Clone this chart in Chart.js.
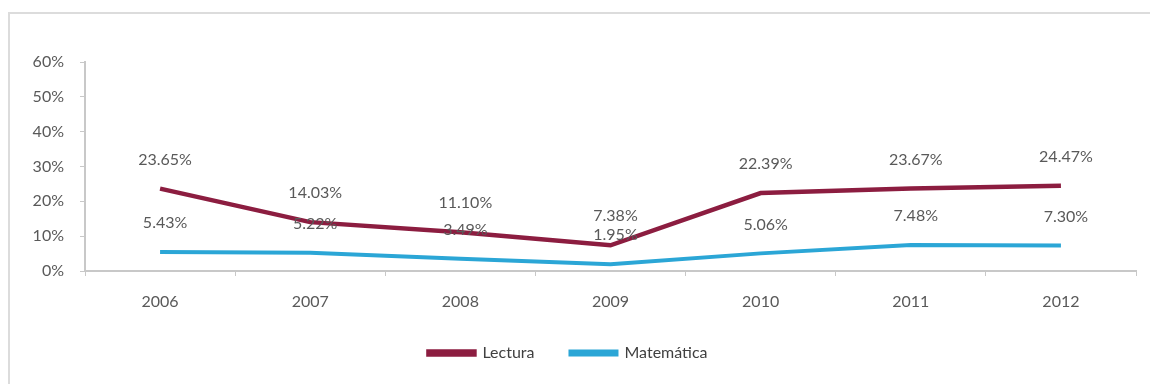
<!DOCTYPE html>
<html>
<head>
<meta charset="utf-8">
<script src="https://cdn.jsdelivr.net/npm/chart.js@4"></script>
<style>
  body { margin: 0; background: #fff; overflow: hidden; }
  #wrap { position: relative; width: 1150px; height: 384px; }
  #frame { position: absolute; left: 8px; top: 12px; width: 1160px; height: 400px; border: 2px solid #dcdcdc; box-sizing: border-box; }
  #chart { position: absolute; left: 0; top: 0; }
</style>
</head>
<body>
<div id="wrap">
  <div id="frame"></div>
  <canvas id="chart" width="1150" height="384"></canvas>
</div>
<script>
// datos del gráfico
const years = ['2006', '2007', '2008', '2009', '2010', '2011', '2012'];
const lectura = [23.65, 14.03, 11.10, 7.38, 22.39, 23.67, 24.47];
const matematica = [5.43, 5.22, 3.49, 1.95, 5.06, 7.48, 7.30];
const yTicks = [0, 10, 20, 30, 40, 50, 60];

const textColor = '#595959';
const fontFamily = 'Lato, "Open Sans", sans-serif';

// etiquetas de valor encima de cada punto
const valueLabels = {
    id: 'valueLabels',
    afterDatasetsDraw(chart) {
        const ctx = chart.ctx;
        ctx.save();
        ctx.font = '16px ' + fontFamily;
        ctx.fillStyle = textColor;
        ctx.textAlign = 'center';
        ctx.textBaseline = 'middle';
        chart.data.datasets.forEach((ds, i) => {
            const meta = chart.getDatasetMeta(i);
            meta.data.forEach((pt, j) => {
                ctx.fillText(ds.data[j].toFixed(2) + '%', pt.x + 5, pt.y - 29);
            });
        });
        ctx.restore();
    }
};

new Chart(document.getElementById('chart'), {
    type: 'line',
    data: {
        labels: years,
        datasets: [{
            label: 'Lectura',
            data: lectura,
            borderColor: '#8c1d40',
            backgroundColor: '#8c1d40',
            borderWidth: 4.5,
            pointRadius: 0,
            tension: 0
        }, {
            label: 'Matemática',
            data: matematica,
            borderColor: '#2ba6d6',
            backgroundColor: '#2ba6d6',
            borderWidth: 4,
            pointRadius: 0,
            tension: 0
        }]
    },
    options: {
        responsive: false,
        animation: false,
        layout: { padding: { top: 62, right: 14, bottom: 13, left: 0 } },
        plugins: {
            tooltip: { enabled: false },
            legend: {
                position: 'bottom',
                labels: {
                    boxWidth: 46,
                    boxHeight: 3,
                    padding: 36,
                    color: '#404040',
                    font: { family: fontFamily, size: 16 }
                }
            }
        },
        scales: {
            x: {
                offset: true,
                afterFit(scale) { scale.height = 38; },
                grid: { offset: true, drawOnChartArea: false, drawTicks: true, tickLength: 5, color: '#c8c8c8' },
                border: { color: '#c8c8c8', width: 2 },
                ticks: { color: textColor, padding: 16, font: { family: fontFamily, size: 16 } }
            },
            y: {
                min: 0,
                max: 60,
                afterFit(scale) { scale.width = 85; },
                afterBuildTicks(scale) { scale.ticks = yTicks.map(v => ({ value: v })); },
                grid: { drawOnChartArea: false, drawTicks: true, tickLength: 5, color: '#c8c8c8' },
                border: { color: '#c8c8c8', width: 2 },
                ticks: {
                    color: textColor,
                    padding: 16,
                    font: { family: fontFamily, size: 16 },
                    callback: v => v + '%'
                }
            }
        }
    },
    plugins: [valueLabels]
});
</script>
</body>
</html>
